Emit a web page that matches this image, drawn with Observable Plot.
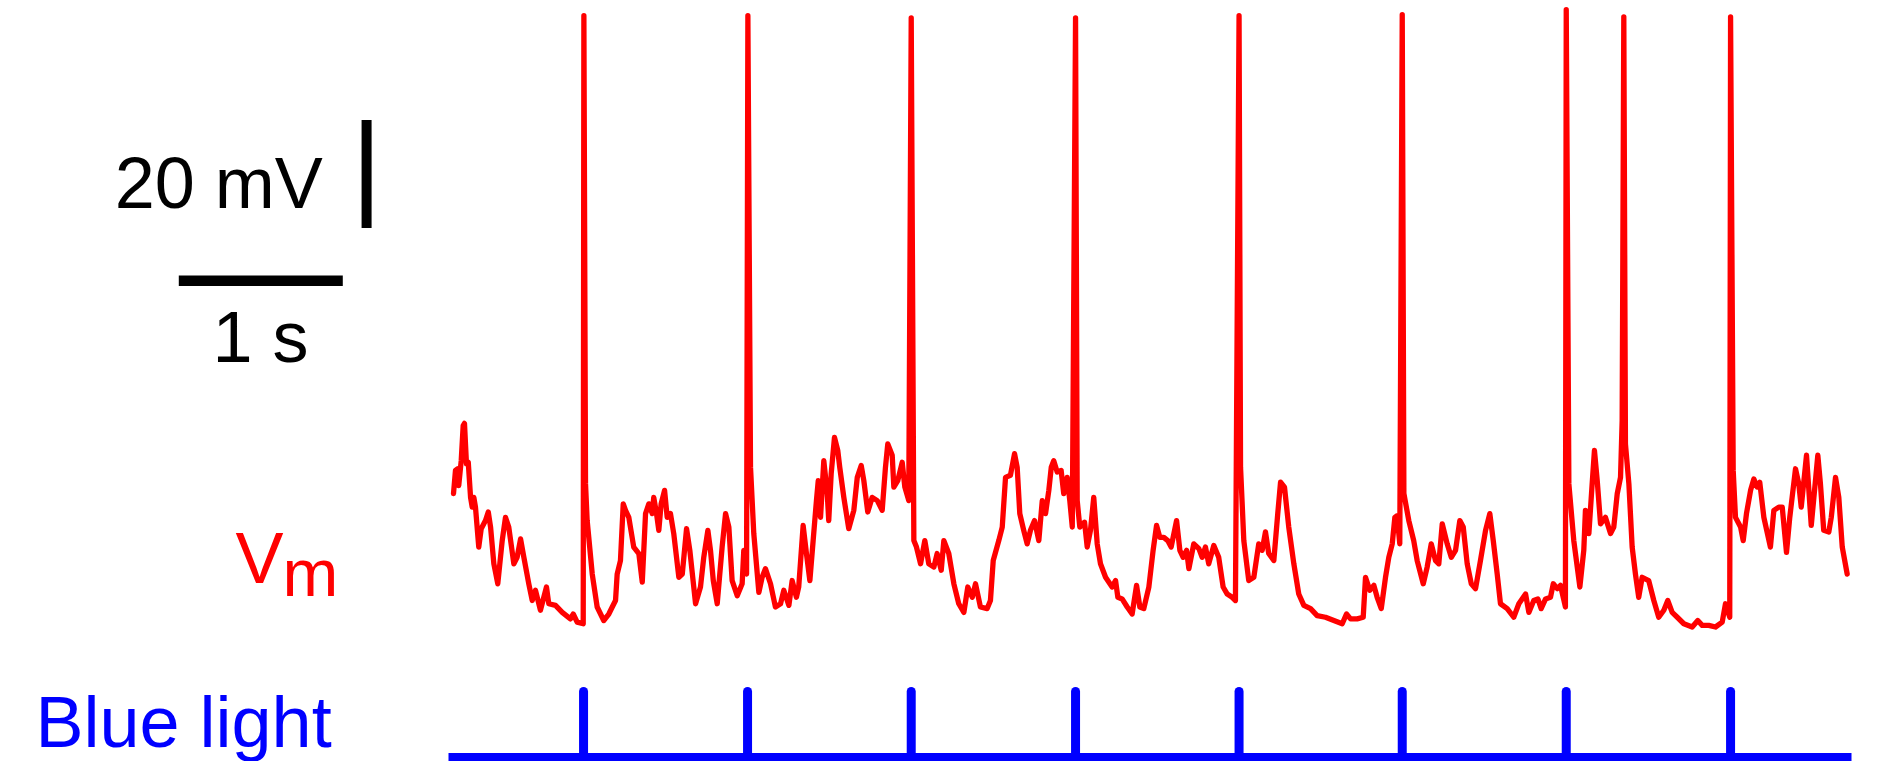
<!DOCTYPE html>
<html>
<head>
<meta charset="utf-8">
<script src="https://cdn.jsdelivr.net/npm/d3@7"></script>
<script src="https://cdn.jsdelivr.net/npm/@observablehq/plot@0.6"></script>
<style>
html, body { margin: 0; padding: 0; background: #ffffff; }
#chart { position: relative; width: 1884px; height: 761px; overflow: hidden; }
#chart svg { position: absolute; left: 0; top: 0; max-width: none; }
</style>
</head>
<body>
<div id="chart"></div>
<script>
// Membrane potential trace: [time (s), Vm (mV)]
const vmTrace = [
[0.000,-46.5],[0.012,-42.2],[0.026,-41.9],[0.032,-45.0],[0.047,-40.4],[0.059,-33.9],[0.067,-33.5],[0.079,-41.0],[0.090,-40.7],[0.104,-47.2],[0.114,-49.0],[0.124,-47.2],[0.134,-49.0],[0.154,-56.4],[0.169,-53.0],[0.195,-51.5],[0.212,-49.9],[0.226,-52.7],[0.246,-59.5],[0.270,-63.2],[0.297,-55.2],[0.317,-50.9],[0.337,-52.7],[0.368,-59.5],[0.388,-58.3],[0.409,-54.9],[0.429,-58.3],[0.459,-63.2],[0.480,-66.3],[0.500,-64.4],[0.530,-68.1],[0.567,-63.8],[0.581,-66.9],[0.622,-67.2],[0.663,-68.5],[0.713,-69.7],[0.730,-68.8],[0.754,-70.3],[0.791,-70.6],[0.795,42.0],
[0.805,-44.7],[0.815,-51.5],[0.846,-61.4],[0.876,-67.5],[0.916,-70.0],[0.947,-68.8],[0.968,-67.5],[0.988,-66.3],[0.998,-61.4],[1.018,-58.9],[1.035,-48.4],[1.049,-49.6],[1.069,-50.9],[1.099,-56.4],[1.130,-57.6],[1.151,-62.9],[1.171,-50.2],[1.191,-48.4],[1.212,-50.2],[1.221,-47.2],[1.238,-50.2],[1.252,-53.3],[1.266,-48.4],[1.287,-45.9],[1.303,-50.9],[1.323,-50.2],[1.343,-53.9],[1.374,-62.0],[1.395,-61.4],[1.421,-53.0],[1.441,-57.0],[1.476,-66.9],[1.506,-63.8],[1.526,-58.3],[1.551,-53.3],[1.567,-57.0],[1.584,-62.6],[1.608,-66.9],[1.638,-56.4],[1.659,-50.2],[1.679,-52.7],[1.699,-62.6],[1.730,-65.4],[1.760,-63.2],[1.770,-57.0],[1.787,-61.4],[1.795,42.0],
[1.811,-41.6],[1.831,-53.9],[1.862,-64.8],[1.882,-62.0],[1.902,-60.4],[1.933,-63.2],[1.963,-67.5],[1.994,-66.9],[2.014,-64.4],[2.045,-67.2],[2.065,-62.6],[2.091,-65.7],[2.105,-63.8],[2.132,-52.4],[2.152,-57.6],[2.173,-62.6],[2.193,-55.2],[2.213,-47.8],[2.224,-44.1],[2.238,-50.9],[2.258,-40.4],[2.279,-46.5],[2.288,-51.5],[2.303,-42.8],[2.323,-36.1],[2.343,-38.5],[2.355,-41.6],[2.380,-47.2],[2.410,-53.0],[2.441,-49.6],[2.462,-43.5],[2.486,-41.3],[2.502,-44.1],[2.526,-49.9],[2.553,-47.2],[2.584,-47.8],[2.614,-49.6],[2.634,-41.6],[2.648,-37.3],[2.675,-39.4],[2.685,-45.3],[2.709,-44.1],[2.736,-40.7],[2.752,-45.3],[2.776,-47.8],[2.791,41.6],
[2.807,-55.2],[2.823,-56.4],[2.848,-59.5],[2.874,-55.2],[2.898,-59.5],[2.929,-60.1],[2.949,-57.6],[2.974,-60.7],[2.990,-55.2],[3.020,-57.6],[3.051,-63.2],[3.081,-66.9],[3.112,-68.5],[3.136,-63.8],[3.163,-65.7],[3.183,-63.2],[3.213,-67.5],[3.254,-67.8],[3.274,-66.3],[3.291,-58.9],[3.325,-55.2],[3.346,-52.7],[3.366,-43.5],[3.396,-43.1],[3.421,-39.1],[3.437,-41.6],[3.453,-50.2],[3.477,-53.3],[3.498,-55.8],[3.518,-53.3],[3.543,-51.5],[3.569,-55.2],[3.590,-47.8],[3.610,-50.2],[3.630,-45.9],[3.645,-41.6],[3.660,-40.4],[3.681,-42.5],[3.705,-42.2],[3.721,-46.5],[3.742,-43.5],[3.758,-47.8],[3.773,-52.7],[3.793,41.6],
[3.803,-47.8],[3.819,-52.7],[3.848,-51.8],[3.864,-56.4],[3.884,-53.3],[3.904,-47.2],[3.925,-55.8],[3.945,-59.5],[3.976,-62.0],[4.016,-63.8],[4.037,-62.6],[4.051,-65.7],[4.077,-66.0],[4.108,-67.5],[4.138,-68.8],[4.165,-63.5],[4.185,-67.5],[4.209,-67.8],[4.240,-63.8],[4.266,-57.0],[4.287,-52.4],[4.307,-54.6],[4.331,-54.6],[4.355,-55.2],[4.376,-56.4],[4.409,-51.5],[4.429,-57.0],[4.449,-58.3],[4.470,-57.0],[4.484,-60.4],[4.514,-55.8],[4.545,-56.7],[4.565,-58.3],[4.585,-56.4],[4.605,-59.5],[4.636,-56.1],[4.666,-58.3],[4.693,-63.8],[4.718,-65.1],[4.748,-65.7],[4.768,-66.3],[4.790,42.0],
[4.799,-41.6],[4.819,-55.2],[4.849,-62.6],[4.880,-62.0],[4.910,-55.8],[4.931,-57.0],[4.951,-53.6],[4.971,-57.6],[5.002,-58.9],[5.026,-50.2],[5.043,-44.4],[5.067,-45.3],[5.093,-52.7],[5.124,-59.5],[5.154,-65.1],[5.185,-67.2],[5.226,-67.8],[5.266,-69.1],[5.317,-69.4],[5.368,-70.0],[5.419,-70.6],[5.445,-68.8],[5.470,-69.7],[5.510,-69.7],[5.547,-69.4],[5.561,-62.0],[5.587,-64.4],[5.612,-63.5],[5.632,-65.7],[5.657,-67.8],[5.683,-62.0],[5.703,-58.3],[5.724,-55.8],[5.740,-50.9],[5.754,-50.6],[5.770,-55.8],[5.785,42.2],
[5.795,-46.5],[5.825,-51.5],[5.855,-55.2],[5.876,-58.9],[5.913,-63.2],[5.937,-60.1],[5.962,-55.8],[5.988,-58.9],[6.008,-59.5],[6.029,-52.1],[6.059,-55.8],[6.084,-58.3],[6.110,-57.0],[6.136,-51.5],[6.157,-52.7],[6.181,-59.5],[6.206,-63.2],[6.232,-64.1],[6.262,-58.9],[6.293,-53.3],[6.319,-50.2],[6.340,-55.2],[6.364,-61.4],[6.384,-66.9],[6.425,-67.8],[6.465,-69.4],[6.496,-66.9],[6.537,-65.1],[6.557,-68.5],[6.587,-66.3],[6.612,-66.0],[6.632,-67.8],[6.659,-66.0],[6.689,-65.7],[6.706,-63.2],[6.730,-64.1],[6.750,-63.5],[6.780,-67.5],[6.785,43.1],
[6.801,-44.7],[6.831,-55.2],[6.868,-63.8],[6.892,-57.0],[6.902,-49.6],[6.923,-53.9],[6.943,-44.7],[6.957,-38.5],[6.974,-44.1],[6.994,-52.1],[7.024,-50.9],[7.055,-53.9],[7.075,-52.7],[7.096,-46.5],[7.116,-43.5],[7.126,-33.0],[7.136,41.8],[7.146,-37.3],[7.167,-44.7],[7.187,-56.4],[7.207,-61.4],[7.227,-65.7],[7.248,-62.0],[7.288,-62.6],[7.319,-66.3],[7.349,-69.4],[7.380,-68.1],[7.404,-66.3],[7.431,-68.5],[7.462,-69.4],[7.502,-70.6],[7.553,-71.2],[7.587,-70.0],[7.614,-70.9],[7.654,-70.9],[7.695,-71.2],[7.736,-70.3],[7.756,-66.9],[7.782,-69.4],[7.787,41.8],
[7.803,-42.2],[7.817,-50.9],[7.848,-52.7],[7.864,-55.2],[7.884,-50.2],[7.909,-45.9],[7.929,-43.8],[7.949,-45.3],[7.965,-44.4],[7.990,-50.9],[8.030,-56.4],[8.051,-49.6],[8.081,-49.0],[8.102,-49.0],[8.128,-57.4],[8.148,-50.9],[8.183,-41.9],[8.203,-44.7],[8.218,-49.0],[8.250,-39.4],[8.279,-52.4],[8.295,-47.2],[8.319,-39.4],[8.335,-44.7],[8.355,-53.3],[8.386,-53.6],[8.401,-50.9],[8.427,-43.5],[8.447,-47.2],[8.468,-56.4],[8.498,-61.4]
];

// Blue light pulse onsets (s) and recording span (s)
const lightOnsets = [0.793, 1.793, 2.791, 3.793, 4.790, 5.785, 6.785, 7.787];
const recordingSpan = [0, 8.5];

// Scale bars
const scaleBarTime = 1;    // s
const scaleBarVolt = 20;   // mV

// Text labels
const labelVolt = "20 mV";
const labelTime = "1 s";
const labelVm = ["V", "m"];
const labelLight = "Blue light";

const FONT = "'Liberation Sans', Arial, Helvetica, sans-serif";
const RED = "#ff0000";
const BLUE = "#0000ff";

const xScale = {domain: [0, 8.5], range: [453, 1847], axis: null};

const vmPlot = Plot.plot({
  width: 1884,
  height: 761,
  margin: 0,
  x: xScale,
  y: {domain: [-70, 42], range: [620, 15.2], axis: null},
  style: {background: "transparent", overflow: "visible"},
  marks: [
    Plot.line(vmTrace, {x: d => d[0], y: d => d[1], stroke: RED, strokeWidth: 5.3, strokeLinejoin: "round", strokeLinecap: "round"}),
    // vertical scale bar (20 mV)
    Plot.ruleX([-0.53], {y1: 2.6, y2: 2.6 + scaleBarVolt, stroke: "#000", strokeWidth: 10}),
    // horizontal scale bar (1 s)
    Plot.ruleY([-7.1], {x1: -1.672, x2: -1.672 + scaleBarTime, stroke: "#000", strokeWidth: 10.5}),
    Plot.text([labelVolt], {x: -0.797, y: 6.3, text: d => d, textAnchor: "end", lineAnchor: "bottom", fontSize: 72, fontFamily: FONT, fill: "#000"}),
    Plot.text([labelTime], {x: -1.177, y: -22.2, text: d => d, textAnchor: "middle", lineAnchor: "bottom", fontSize: 72, fontFamily: FONT, fill: "#000"}),
    Plot.text([labelVm[0]], {x: -1.329, y: -63.0, text: d => d, textAnchor: "start", lineAnchor: "bottom", fontSize: 72, fontFamily: FONT, fill: RED}),
    Plot.text([labelVm[1]], {x: -1.043, y: -65.4, text: d => d, textAnchor: "start", lineAnchor: "bottom", fontSize: 67, fontFamily: FONT, fill: RED})
  ]
});

const lightPlot = Plot.plot({
  width: 1884,
  height: 761,
  margin: 0,
  x: xScale,
  y: {domain: [0, 1], range: [757, 691.5], axis: null},
  style: {background: "transparent", overflow: "visible"},
  marks: [
    Plot.ruleY([0], {x1: recordingSpan[0], x2: recordingSpan[1], stroke: BLUE, strokeWidth: 9, strokeLinecap: "square"}),
    Plot.ruleX(lightOnsets, {y1: 0, y2: 1, stroke: BLUE, strokeWidth: 9, strokeLinecap: "round"}),
    Plot.text([labelLight], {x: -2.549, y: 0.153, text: d => d, textAnchor: "start", lineAnchor: "bottom", fontSize: 72, fontFamily: FONT, fill: BLUE})
  ]
});

const chart = document.getElementById("chart");
chart.appendChild(vmPlot);
chart.appendChild(lightPlot);
</script>
</body>
</html>
